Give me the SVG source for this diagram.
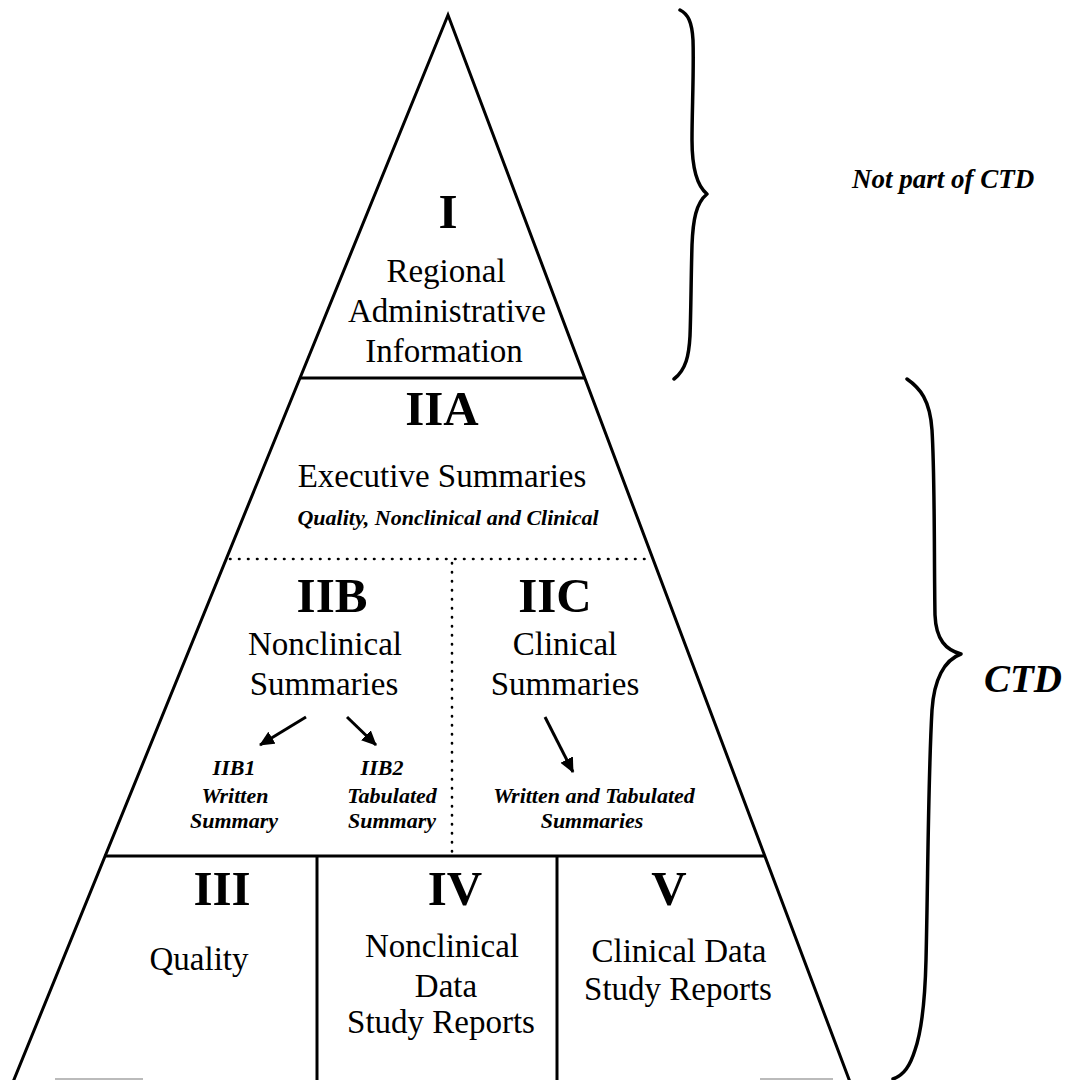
<svg xmlns="http://www.w3.org/2000/svg" width="1070" height="1080" viewBox="0 0 1070 1080">
<style>
.ln{stroke:#000;stroke-width:3;fill:none}
.dot{stroke:#000;stroke-width:2.6;fill:none;stroke-dasharray:0.5 8.5;stroke-linecap:round}
.br{stroke:#000;stroke-width:3.5;fill:none;stroke-linecap:round;stroke-linejoin:round}
.t{font-family:"Liberation Serif","Times New Roman",serif;font-size:33px;fill:#000;text-anchor:middle}
.big{font-family:"Liberation Serif","Times New Roman",serif;font-size:49px;font-weight:bold;fill:#000;text-anchor:middle}
.it{font-family:"Liberation Serif","Times New Roman",serif;font-size:22px;font-weight:bold;font-style:italic;fill:#000;text-anchor:middle}
.lab{font-family:"Liberation Serif","Times New Roman",serif;font-weight:bold;font-style:italic;fill:#000}
.arr{stroke:#000;stroke-width:3;fill:none}
</style>
<defs>
<marker id="ah" markerUnits="userSpaceOnUse" markerWidth="16" markerHeight="14" refX="14" refY="7" orient="auto">
<path d="M0,0 L15,7 L0,14 Z" fill="#000"/>
</marker>
</defs>
<rect width="1070" height="1080" fill="#fff"/>

<g id="pyramid">
<path class="ln" d="M13,1082 L448,15 L850,1082" stroke-linejoin="miter"/>
<line class="ln" x1="300" y1="378" x2="585" y2="378"/>
<line class="dot" x1="230" y1="559" x2="651" y2="559"/>
<line class="dot" x1="452" y1="563" x2="452" y2="853"/>
<line class="ln" x1="104" y1="856" x2="765" y2="856"/>
<line class="ln" x1="317" y1="856" x2="317" y2="1082"/>
<line class="ln" x1="557" y1="856" x2="557" y2="1082"/>
<line x1="55" y1="1079" x2="143" y2="1079" stroke="#bbb" stroke-width="2"/>
<line x1="760" y1="1079" x2="833" y2="1079" stroke="#bbb" stroke-width="2"/>
</g>

<g id="section-I">
<text class="big" x="448" y="228" font-size="52">I</text>
<text class="t" x="446" y="282">Regional</text>
<text class="t" x="447" y="322">Administrative</text>
<text class="t" x="444" y="362">Information</text>
</g>

<g id="section-IIA">
<text class="big" x="442" y="425">IIA</text>
<text class="t" x="442" y="487">Executive Summaries</text>
<text class="it" x="448" y="525">Quality, Nonclinical and Clinical</text>
</g>

<g id="section-IIB">
<text class="big" x="332" y="612">IIB</text>
<text class="t" x="325" y="655">Nonclinical</text>
<text class="t" x="324" y="695">Summaries</text>
</g>

<g id="section-IIB1">
<text class="it" x="234" y="775">IIB1</text>
<text class="it" x="235" y="803">Written</text>
<text class="it" x="234" y="828">Summary</text>
</g>

<g id="section-IIB2">
<text class="it" x="382" y="775">IIB2</text>
<text class="it" x="392" y="803">Tabulated</text>
<text class="it" x="392" y="828">Summary</text>
</g>

<g id="section-IIC">
<text class="big" x="555" y="612">IIC</text>
<text class="t" x="565" y="655">Clinical</text>
<text class="t" x="565" y="695">Summaries</text>
</g>

<g id="section-IIC-sub">
<text class="it" x="594" y="803">Written and Tabulated</text>
<text class="it" x="592" y="828">Summaries</text>
</g>

<g id="section-III">
<text class="big" x="222" y="905">III</text>
<text class="t" x="199" y="970">Quality</text>
</g>

<g id="section-IV">
<text class="big" x="455" y="905">IV</text>
<text class="t" x="442" y="957">Nonclinical</text>
<text class="t" x="446" y="997">Data</text>
<text class="t" x="441" y="1033">Study Reports</text>
</g>

<g id="section-V">
<text class="big" x="669" y="905">V</text>
<text class="t" x="679" y="962">Clinical Data</text>
<text class="t" x="678" y="1000">Study Reports</text>
</g>

<g id="brace-not-ctd">
<path class="br" d="M680,10 C688,14 692,22 693,40 C694,70 692,110 692,140 C692,165 696,185 707,194 C696,203 693,220 692,245 C691,280 691,310 690,336 C689,355 686,370 674,379"/>
<text class="lab" x="852" y="188" font-size="27">Not part of CTD</text>
</g>

<g id="brace-ctd">
<path class="br" d="M907,379 C920,388 930,400 932,430 C935,480 934,560 935,615 C936,640 946,650 961,654 C944,660 934,680 932,710 C928,780 928,880 926,960 C925,1000 922,1030 915,1050 C910,1066 904,1075 893,1079"/>
<text class="lab" x="984" y="692" font-size="39">CTD</text>
</g>

<g id="connectors">
<line class="arr" x1="306" y1="717" x2="260" y2="745" marker-end="url(#ah)"/>
<line class="arr" x1="347" y1="717" x2="376" y2="745" marker-end="url(#ah)"/>
<line class="arr" x1="545" y1="717" x2="573" y2="772" marker-end="url(#ah)"/>
</g>
</svg>
